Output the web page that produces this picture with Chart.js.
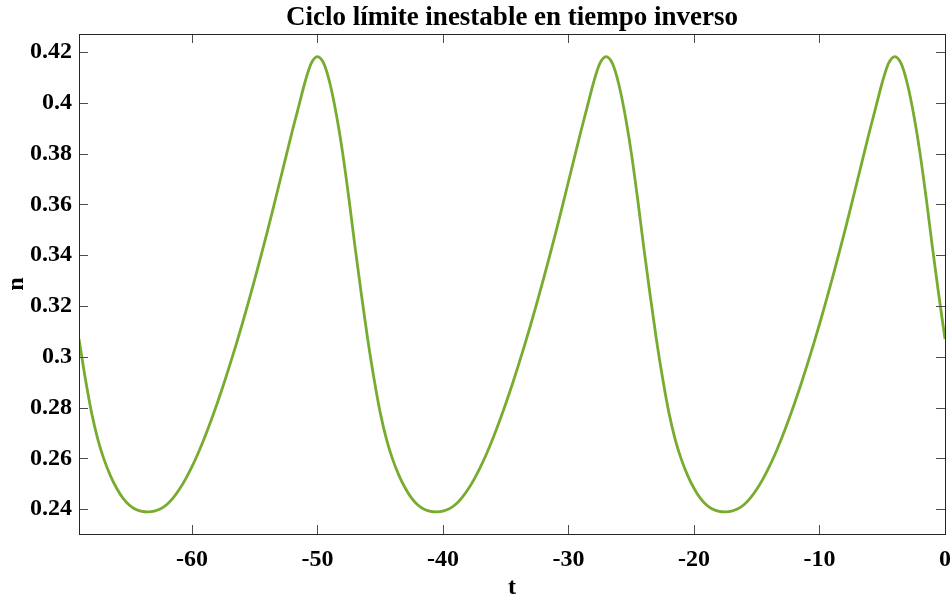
<!DOCTYPE html>
<html>
<head>
<meta charset="utf-8">
<script src="https://cdn.jsdelivr.net/npm/chart.js@4.4.1/dist/chart.umd.min.js"></script>
<style>
  html, body { margin: 0; padding: 0; background: #fff; }
  #wrap { width: 951px; height: 600px; position: relative; }
</style>
</head>
<body>
<div id="wrap"><canvas id="chartCycle"></canvas></div>
<script>
(function() {
  /* sampled time values (t) */
  var tVals = [
    -69, -68.5, -68, -67.5, -67, -66.5, -66, -65.5, -65, -64.5, -64, -63.5,
    -63, -62.5, -62, -61.5, -61, -60.5, -60, -59.5, -59, -58.5, -58, -57.5,
    -57, -56.5, -56, -55.5, -55, -54.5, -54, -53.5, -53, -52.5, -52, -51.5,
    -51, -50.5, -50, -49.5, -49, -48.5, -48, -47.5, -47, -46.5, -46, -45.5,
    -45, -44.5, -44, -43.5, -43, -42.5, -42, -41.5, -41, -40.5, -40, -39.5,
    -39, -38.5, -38, -37.5, -37, -36.5, -36, -35.5, -35, -34.5, -34, -33.5,
    -33, -32.5, -32, -31.5, -31, -30.5, -30, -29.5, -29, -28.5, -28, -27.5,
    -27, -26.5, -26, -25.5, -25, -24.5, -24, -23.5, -23, -22.5, -22, -21.5,
    -21, -20.5, -20, -19.5, -19, -18.5, -18, -17.5, -17, -16.5, -16, -15.5,
    -15, -14.5, -14, -13.5, -13, -12.5, -12, -11.5, -11, -10.5, -10, -9.5,
    -9, -8.5, -8, -7.5, -7, -6.5, -6, -5.5, -5, -4.5, -4, -3.5,
    -3, -2.5, -2, -1.5, -1, -0.5, 0
  ];

  /* n at each t */
  var nVals = [
    0.3070, 0.2915, 0.2780, 0.2675, 0.2595, 0.2532, 0.2482, 0.2443, 0.2416, 0.2399, 0.2391, 0.2389,
    0.2392, 0.2401, 0.2418, 0.2444, 0.2478, 0.2519, 0.2567, 0.2621, 0.2681, 0.2746, 0.2815, 0.2888,
    0.2965, 0.3045, 0.3128, 0.3215, 0.3305, 0.3397, 0.3492, 0.3590, 0.3690, 0.3790, 0.3890, 0.3985,
    0.4080, 0.4155, 0.4182, 0.4155, 0.4075, 0.3955, 0.3805, 0.3625, 0.3430, 0.3245, 0.3070, 0.2915,
    0.2780, 0.2675, 0.2595, 0.2532, 0.2482, 0.2443, 0.2416, 0.2399, 0.2391, 0.2389, 0.2392, 0.2401,
    0.2418, 0.2444, 0.2478, 0.2519, 0.2567, 0.2621, 0.2681, 0.2746, 0.2815, 0.2888, 0.2965, 0.3045,
    0.3128, 0.3215, 0.3305, 0.3397, 0.3492, 0.3590, 0.3690, 0.3790, 0.3890, 0.3985, 0.4080, 0.4155,
    0.4182, 0.4155, 0.4075, 0.3955, 0.3805, 0.3625, 0.3430, 0.3245, 0.3070, 0.2915, 0.2780, 0.2675,
    0.2595, 0.2532, 0.2482, 0.2443, 0.2416, 0.2399, 0.2391, 0.2389, 0.2392, 0.2401, 0.2418, 0.2444,
    0.2478, 0.2519, 0.2567, 0.2621, 0.2681, 0.2746, 0.2815, 0.2888, 0.2965, 0.3045, 0.3128, 0.3215,
    0.3305, 0.3397, 0.3492, 0.3590, 0.3690, 0.3790, 0.3890, 0.3985, 0.4080, 0.4155, 0.4182, 0.4155,
    0.4075, 0.3955, 0.3805, 0.3625, 0.3430, 0.3245, 0.3070
  ];

  var xTicks = [-60, -50, -40, -30, -20, -10, 0];
  var yTicks = [0.24, 0.26, 0.28, 0.3, 0.32, 0.34, 0.36, 0.38, 0.4, 0.42];

  var serif = "'Liberation Serif', 'Times New Roman', serif";

  /* MATLAB-like box with inward ticks on all four sides */
  var boxTicks = {
    id: 'boxTicks',
    afterDraw: function(chart) {
      var ctx = chart.ctx;
      var a = chart.chartArea;
      var xs = chart.scales.x, ys = chart.scales.y;
      var len = 9;
      ctx.save();
      ctx.lineWidth = 1;
      ctx.strokeStyle = '#4d4d4d';
      ctx.beginPath();
      xTicks.forEach(function(v) {
        var px = Math.round(xs.getPixelForValue(v)) + 0.5;
        ctx.moveTo(px, a.bottom); ctx.lineTo(px, a.bottom - len);
        ctx.moveTo(px, a.top); ctx.lineTo(px, a.top + len);
      });
      yTicks.forEach(function(v) {
        var py = Math.round(ys.getPixelForValue(v)) + 0.5;
        ctx.moveTo(a.left, py); ctx.lineTo(a.left + len, py);
        ctx.moveTo(a.right, py); ctx.lineTo(a.right - len, py);
      });
      ctx.stroke();
      ctx.strokeStyle = '#262626';
      ctx.strokeRect(Math.round(a.left) + 0.5, Math.round(a.top) + 0.5,
        Math.round(a.right - a.left), Math.round(a.bottom - a.top));
      ctx.restore();
    }
  };

  var points = tVals.map(function(t, i) { return { x: t, y: nVals[i] }; });

  new Chart(document.getElementById('chartCycle'), {
    type: 'line',
    data: {
      datasets: [{
        data: points,
        borderColor: '#77AC30',
        borderWidth: 2.8,
        pointRadius: 0,
        fill: false,
        cubicInterpolationMode: 'monotone'
      }]
    },
    options: {
      responsive: true,
      maintainAspectRatio: false,
      animation: false,
      layout: { padding: { left: 0, right: 0, top: 0, bottom: 0 } },
      plugins: {
        legend: { display: false },
        tooltip: { enabled: false },
        title: {
          display: true,
          fullSize: false,
          text: 'Ciclo límite inestable en tiempo inverso',
          color: '#000',
          font: { family: serif, size: 27, weight: 'bold', lineHeight: 1.1 },
          padding: { top: 3, bottom: 1.3 }
        }
      },
      scales: {
        x: {
          type: 'linear',
          min: -69,
          max: 0,
          grid: { display: false, drawTicks: false },
          border: { display: false },
          afterBuildTicks: function(s) { s.ticks = xTicks.map(function(v) { return { value: v }; }); },
          afterFit: function(s) { s.height = 66; s.paddingRight = 6; s.paddingLeft = 0; },
          ticks: {
            autoSkip: false,
            maxRotation: 0,
            padding: 11,
            color: '#000',
            font: { family: serif, size: 24, weight: 'bold' },
            callback: function(v) { return String(v); }
          },
          title: {
            display: true,
            text: 't',
            color: '#000',
            font: { family: serif, size: 24, weight: 'bold', lineHeight: 1 },
            padding: { top: 0, bottom: 0 }
          }
        },
        y: {
          min: 0.2302,
          max: 0.4271,
          grid: { display: false, drawTicks: false },
          border: { display: false },
          afterBuildTicks: function(s) { s.ticks = yTicks.map(function(v) { return { value: v }; }); },
          afterFit: function(s) { s.width = 79; },
          ticks: {
            autoSkip: false,
            padding: 7,
            color: '#000',
            font: { family: serif, size: 24, weight: 'bold' },
            callback: function(v) { return String(Number(v.toFixed(2))); }
          },
          title: {
            display: true,
            text: 'n',
            color: '#000',
            font: { family: serif, size: 24, weight: 'bold', lineHeight: 1 },
            padding: { top: 5, bottom: 0 }
          }
        }
      }
    },
    plugins: [boxTicks]
  });
})();
</script>
</body>
</html>
